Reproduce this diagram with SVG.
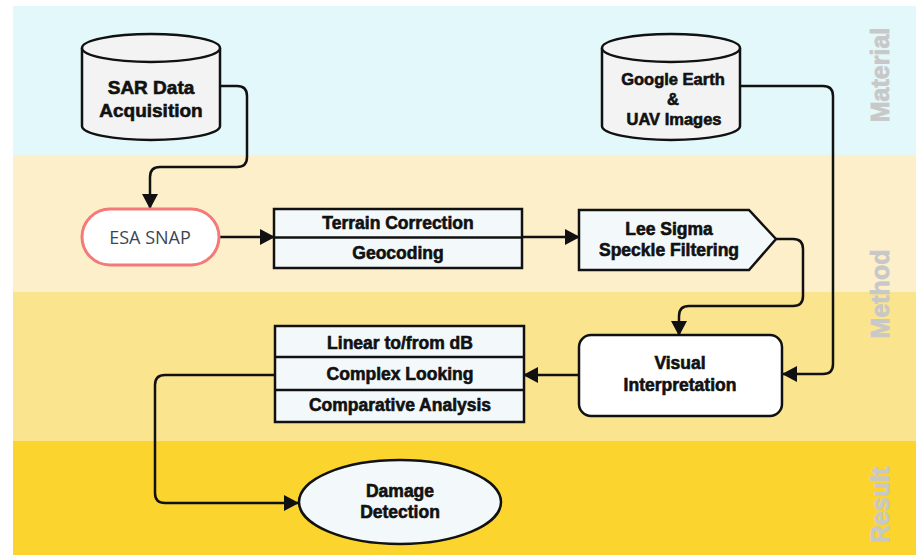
<svg xmlns="http://www.w3.org/2000/svg" width="916" height="555" viewBox="0 0 916 555">
<defs>
<marker id="arr" markerUnits="userSpaceOnUse" markerWidth="16" markerHeight="16" refX="14" refY="8" orient="auto">
<path d="M0,0 L15,8 L0,16 Z" fill="#111"/>
</marker>
<style>
.conn{fill:none;stroke:#111;stroke-width:2.5;marker-end:url(#arr)}
.box{fill:#f3f9fb;stroke:#111;stroke-width:2.5}
.cyl{fill:#f3f3f3;stroke:#111;stroke-width:2.5}
.t{font-family:"Liberation Sans",Arial,sans-serif;font-weight:bold;font-size:17.5px;fill:#111;stroke:#111;stroke-width:0.6;text-anchor:middle}
.lab{font-family:"Liberation Sans",Arial,sans-serif;font-weight:bold;font-size:25px;fill:#c8c8c8;stroke:#c8c8c8;stroke-width:0.8;text-anchor:middle}
</style>
</defs>
<rect x="0" y="0" width="916" height="555" fill="#ffffff"/>
<rect x="13" y="6" width="903" height="149" fill="#e3f8fa"/>
<rect x="13" y="155" width="903" height="137" fill="#fdefca"/>
<rect x="13" y="292" width="903" height="149" fill="#fbe48e"/>
<rect x="13" y="441" width="903" height="114" fill="#fbd52e"/>
<text class="lab" transform="translate(889,75) rotate(-90)">Material</text>
<text class="lab" transform="translate(889,294) rotate(-90)">Method</text>
<text class="lab" transform="translate(889,505) rotate(-90)">Result</text>
<g id="connectors">
<path class="conn" d="M220,86 H237 Q247,86 247,96 V157 Q247,167 237,167 H160 Q150,167 150,177 V208"/>
<path class="conn" d="M219,237 H274"/>
<path class="conn" d="M522,237 H579"/>
<path class="conn" d="M776,239 H793 Q803,239 803,249 V296 Q803,306 793,306 H689 Q679,306 679,316 V335"/>
<path class="conn" d="M740,86 H823 Q833,86 833,96 V364 Q833,374 823,374 H783"/>
<path class="conn" d="M579,375 H524"/>
<path class="conn" d="M275,375 H165 Q155,375 155,385 V493 Q155,503 165,503 H298"/>
</g>
<g id="sar">
<path class="cyl" d="M82,48 A69,14 0 0 1 220,48 V126 A69,14 0 0 1 82,126 Z"/>
<path class="cyl" d="M82,48 A69,14 0 0 0 220,48" fill="none"/>
<text class="t" style="font-size:19px" x="151" y="94">SAR Data</text>
<text class="t" style="font-size:19px" x="151" y="117">Acquisition</text>
</g>
<g id="google">
<path class="cyl" d="M602,48 A69,14 0 0 1 740,48 V126 A69,14 0 0 1 602,126 Z"/>
<path class="cyl" d="M602,48 A69,14 0 0 0 740,48" fill="none"/>
<text class="t" style="font-size:16.5px" x="673" y="85">Google Earth</text>
<text class="t" style="font-size:16.5px" x="673" y="105">&amp;</text>
<text class="t" style="font-size:16.5px" x="674" y="125">UAV Images</text>
</g>
<g id="esasnap">
<rect x="82" y="209" width="137" height="56" rx="28" fill="#ffffff" stroke="#f47a7a" stroke-width="3"/>
<text x="150" y="244" font-family="'Open Sans','Noto Sans',sans-serif" font-size="18" fill="#3d4555" text-anchor="middle">ESA SNAP</text>
</g>
<g id="terrain">
<rect class="box" x="274" y="209" width="248" height="59"/>
<line x1="274" y1="237.5" x2="522" y2="237.5" stroke="#111" stroke-width="2.5"/>
<text class="t" x="398" y="229">Terrain Correction</text>
<text class="t" x="398" y="259">Geocoding</text>
</g>
<g id="leesigma">
<path class="box" d="M579,210 H749 L776,239 L749,270 H579 Z"/>
<text class="t" x="669" y="235">Lee Sigma</text>
<text class="t" x="669" y="256">Speckle Filtering</text>
</g>
<g id="visual">
<rect x="579" y="335" width="203" height="81" rx="12" fill="#ffffff" stroke="#111" stroke-width="2.5"/>
<text class="t" x="680" y="369">Visual</text>
<text class="t" x="680" y="391">Interpretation</text>
</g>
<g id="analysis">
<rect class="box" x="275" y="326" width="249" height="96"/>
<line x1="275" y1="357" x2="524" y2="357" stroke="#111" stroke-width="2.5"/>
<line x1="275" y1="390" x2="524" y2="390" stroke="#111" stroke-width="2.5"/>
<text class="t" x="400" y="349">Linear to/from dB</text>
<text class="t" x="400" y="380">Complex Looking</text>
<text class="t" x="400" y="411">Comparative Analysis</text>
</g>
<g id="damage">
<ellipse class="box" cx="400" cy="502" rx="101" ry="42"/>
<text class="t" x="400" y="497">Damage</text>
<text class="t" x="400" y="518">Detection</text>
</g>
</svg>
